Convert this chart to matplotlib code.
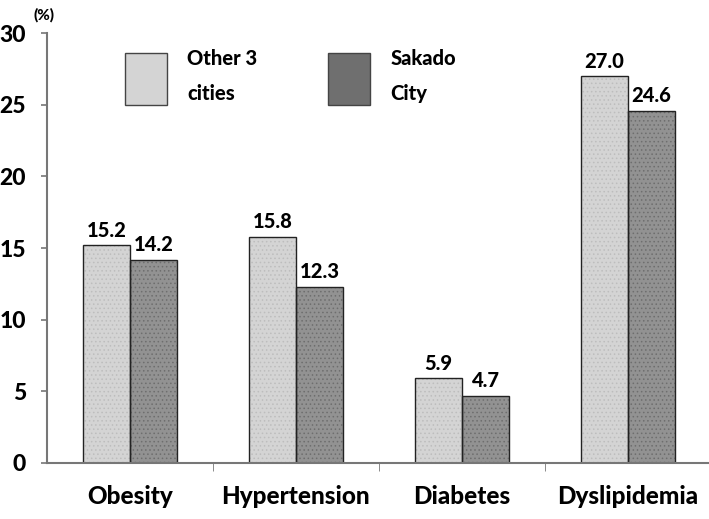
import matplotlib
matplotlib.use("Agg")
import matplotlib.pyplot as plt
import numpy as np
from matplotlib.patches import Patch

categories = ["Obesity", "Hypertension", "Diabetes", "Dyslipidemia"]
other_3_cities = [15.2, 15.8, 5.9, 27.0]
sakado_city = [14.2, 12.3, 4.7, 24.6]
series_labels = ["Other 3\ncities", "Sakado\nCity"]
yticks = [0, 5, 10, 15, 20, 25, 30]

plt.rcParams['font.family'] = ['Lato', 'DejaVu Sans']
plt.rcParams['hatch.linewidth'] = 0.6
W = 900

fig = plt.figure(figsize=(7.09, 5.19), dpi=100)
ax = fig.add_axes([0.066, 0.108, 0.937, 0.828])

x = np.arange(len(categories))
w = 0.283
light = "#d4d4d4"
dark = "#929292"
# fills
b1 = ax.bar(x - w / 2, other_3_cities, w, color=light, linewidth=0, zorder=2)
b2 = ax.bar(x + w / 2, sakado_city, w, color=dark, linewidth=0, zorder=2)
# stipple texture
ax.bar(x - w / 2, other_3_cities, w, fill=False, edgecolor="#bdbdbd", linewidth=0, hatch="....", zorder=3)
ax.bar(x + w / 2, sakado_city, w, fill=False, edgecolor="#6e6e6e", linewidth=0, hatch="....", zorder=3)
# outlines
ax.bar(x - w / 2, other_3_cities, w, fill=False, edgecolor="#222222", linewidth=1.0, zorder=4)
ax.bar(x + w / 2, sakado_city, w, fill=False, edgecolor="#222222", linewidth=1.0, zorder=4)

for bars, vals in ((b1, other_3_cities), (b2, sakado_city)):
    for r, v in zip(bars, vals):
        ax.annotate(f"{v:.1f}", (r.get_x() + r.get_width() / 2, v),
                    xytext=(0, 4), textcoords="offset points",
                    ha="center", va="bottom", fontsize=14.5, fontweight=W)

ax.set_xlim(-0.5, 3.5)
ax.set_ylim(0, 30)
ax.set_yticks(yticks)
ax.set_yticklabels([str(t) for t in yticks], fontsize=16.5, fontweight=W)
ax.set_xticks(x)
ax.set_xticklabels(categories, fontsize=17.5, fontweight=W)
ax.tick_params(axis="x", length=0, pad=16)
ax.set_xticks(np.arange(0.5, 4, 1), minor=True)
ax.tick_params(axis="x", which="minor", length=6, color="#777777", direction="out")
ax.tick_params(axis="y", length=4, color="#777777", width=1.2, pad=11)

for s in ("top", "right"):
    ax.spines[s].set_visible(False)
for s in ("left", "bottom"):
    ax.spines[s].set_color("#777777")
    ax.spines[s].set_linewidth(1.5)
    ax.spines[s].set_zorder(5)

ax.text(-0.02, 1.025, "(%)", transform=ax.transAxes, fontsize=11, fontweight=W,
        ha="left", va="bottom")

handles = [Patch(facecolor=light, edgecolor="#444444"), Patch(facecolor="#6f6f6f", edgecolor="#444444")]
leg = ax.legend(handles, series_labels, loc="upper left", bbox_to_anchor=(0.09, 1.005),
                ncol=2, frameon=False, prop={"size": 14.5, "weight": W},
                handlelength=2.1, handleheight=3.6, columnspacing=3.5, handletextpad=1.0)
for t in leg.get_texts():
    t.set_linespacing(2.0)

fig.savefig("out.png", dpi=100)
